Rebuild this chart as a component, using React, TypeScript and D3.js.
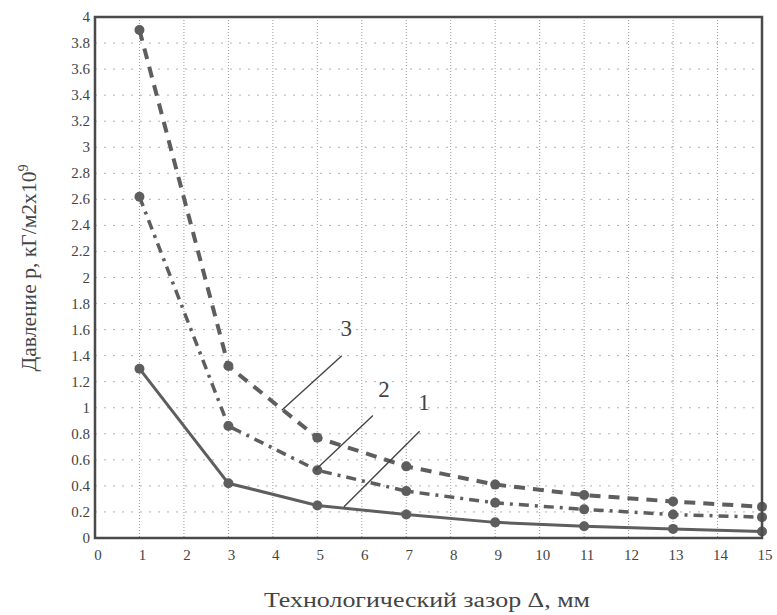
import React, { useEffect, useRef } from "react";
import * as d3 from "d3";

// gap values (mm)
const gaps = [1, 3, 5, 7, 9, 11, 13, 15];
// pressure, kG/m2 x 10^9
const curve1 = [1.3, 0.42, 0.25, 0.18, 0.12, 0.09, 0.07, 0.05];
const curve2 = [2.62, 0.86, 0.52, 0.36, 0.27, 0.22, 0.18, 0.16];
const curve3 = [3.9, 1.32, 0.77, 0.55, 0.41, 0.33, 0.28, 0.24];

const xTicks = d3.range(0, 16);
const yTicks = d3.range(0, 21).map(i => +(i * 0.2).toFixed(1));

// curve numbers with their leader lines, in data units
const callouts = [
  { label: "1", at: [7.4, 0.98], from: [5.6, 0.24], to: [7.3, 0.82] },
  { label: "2", at: [6.5, 1.08], from: [4.95, 0.52], to: [6.25, 0.94] },
  { label: "3", at: [5.65, 1.55], from: [4.2, 0.98], to: [5.55, 1.4] },
];

const W = 777, H = 615;
const margin = { top: 17, right: 15, bottom: 77, left: 95 };
const serif = "'Liberation Serif', 'DejaVu Serif', 'Times New Roman', serif";

function Chart() {
  const ref = useRef<SVGSVGElement>(null);

  function drawChart() {
    const svg = d3.select(ref.current);
    svg.selectAll("*").remove();

    const x = d3.scaleLinear().domain([0, 15]).range([margin.left, W - margin.right]);
    const y = d3.scaleLinear().domain([0, 4]).range([H - margin.bottom, margin.top]);
    const ink = "#5e5e5e";

    // grid
    svg.append("g")
      .selectAll("line")
      .data(xTicks.slice(1, -1))
      .join("line")
      .attr("x1", d => x(d)).attr("x2", d => x(d))
      .attr("y1", y(4)).attr("y2", y(0))
      .attr("stroke", "#9a9a9a")
      .attr("stroke-width", 1)
      .attr("stroke-dasharray", "1,2");

    svg.append("g")
      .selectAll("line")
      .data(yTicks.slice(1, -1))
      .join("line")
      .attr("x1", x(0)).attr("x2", x(15))
      .attr("y1", d => y(d)).attr("y2", d => y(d))
      .attr("stroke", "#b0b0b0")
      .attr("stroke-width", 1)
      .attr("stroke-dasharray", "2,7");

    // curves
    const line = d3.line<number>()
      .x((d, i) => x(gaps[i]))
      .y(d => y(d));

    const series = [
      { values: curve1, dash: null, width: 3 },
      { values: curve2, dash: "10,6,3,6", width: 3.5 },
      { values: curve3, dash: "11,8", width: 4 },
    ];

    series.forEach(s => {
      svg.append("path")
        .datum(s.values)
        .attr("fill", "none")
        .attr("stroke", ink)
        .attr("stroke-width", s.width)
        .attr("stroke-dasharray", s.dash)
        .attr("d", line);

      svg.append("g")
        .selectAll("circle")
        .data(s.values)
        .join("circle")
        .attr("cx", (d, i) => x(gaps[i]))
        .attr("cy", d => y(d))
        .attr("r", 5)
        .attr("fill", ink);
    });

    // frame
    svg.append("rect")
      .attr("x", x(0)).attr("y", y(4))
      .attr("width", x(15) - x(0))
      .attr("height", y(0) - y(4))
      .attr("fill", "none")
      .attr("stroke", "#4a4a4a")
      .attr("stroke-width", 2.5);

    // tick labels
    svg.append("g")
      .selectAll("text")
      .data(yTicks)
      .join("text")
      .attr("x", x(0) - 5)
      .attr("y", d => y(d) + 5)
      .attr("text-anchor", "end")
      .style("font-family", serif)
      .attr("font-size", 15)
      .attr("fill", "#444")
      .text(d => String(d));

    svg.append("g")
      .selectAll("text")
      .data(xTicks)
      .join("text")
      .attr("x", d => x(d) + 3)
      .attr("y", y(0) + 22)
      .attr("text-anchor", "middle")
      .style("font-family", serif)
      .attr("font-size", 15)
      .attr("fill", "#444")
      .text(d => String(d));

    // callouts
    callouts.forEach(c => {
      svg.append("line")
        .attr("x1", x(c.from[0])).attr("y1", y(c.from[1]))
        .attr("x2", x(c.to[0])).attr("y2", y(c.to[1]))
        .attr("stroke", "#444")
        .attr("stroke-width", 1.4);
      svg.append("text")
        .attr("x", x(c.at[0]))
        .attr("y", y(c.at[1]))
        .attr("text-anchor", "middle")
        .style("font-family", serif)
        .attr("font-size", 23)
        .attr("fill", "#444")
        .text(c.label);
    });

    // axis titles
    svg.append("text")
      .attr("x", 427)
      .attr("y", 607)
      .attr("text-anchor", "middle")
      .style("font-family", serif)
      .attr("font-size", 20)
      .attr("textLength", 326)
      .attr("lengthAdjust", "spacingAndGlyphs")
      .attr("fill", "#444")
      .text("Технологический зазор Δ, мм");

    const yt = svg.append("text")
      .attr("transform", "translate(36,268) rotate(-90)")
      .attr("text-anchor", "middle")
      .style("font-family", serif)
      .attr("font-size", 20)
      .attr("fill", "#444");
    yt.append("tspan")
      .attr("textLength", 200)
      .attr("lengthAdjust", "spacingAndGlyphs")
      .text("Давление p, кГ/м2х10");
    yt.append("tspan").attr("dy", -8).attr("font-size", 14).text("9");
  }

  useEffect(() => {
    drawChart();
  }, []);

  return (
    <svg ref={ref} width={W} height={H}
      style={{ position: "absolute", left: 0, top: 0, background: "#fff" }} />
  );
}

export default function App() {
  return <Chart />;
}
